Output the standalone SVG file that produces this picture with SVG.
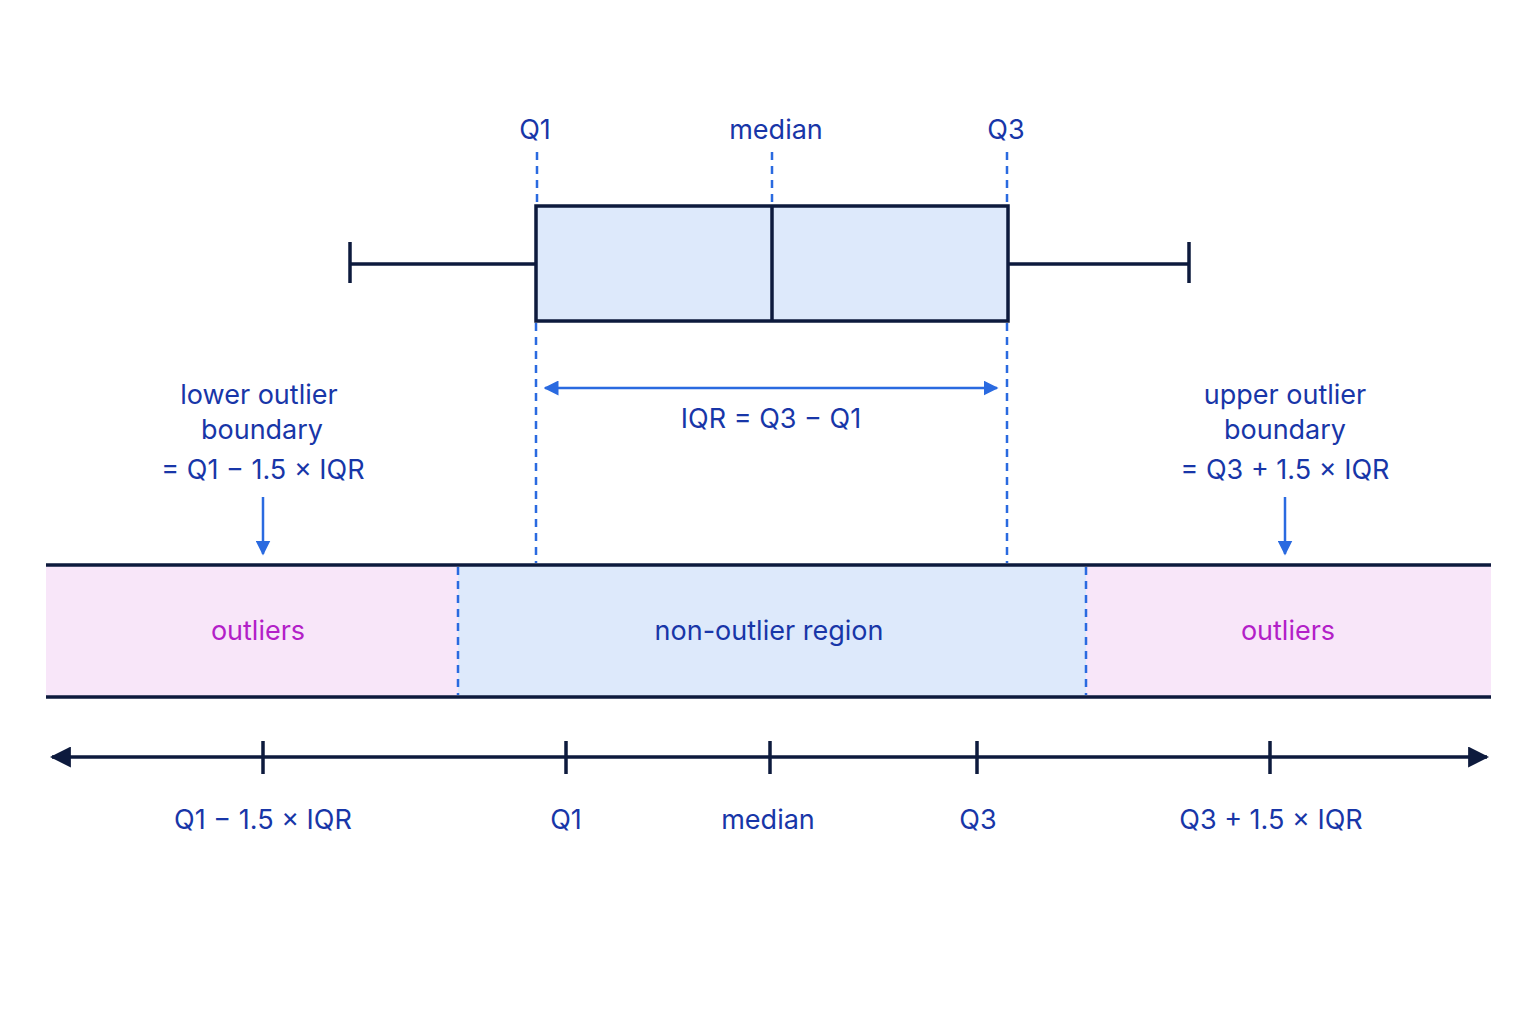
<svg xmlns="http://www.w3.org/2000/svg" width="1536" height="1024" viewBox="0 0 1536 1024">
<defs>
<style>
text{font-family:"Inter","Liberation Sans",sans-serif;font-size:27px;fill:#1836a8;text-anchor:middle}
.out{fill:#b31fc8}
.dash{stroke:#2a6ae0;stroke-width:2.5;stroke-dasharray:8 6;fill:none}
.dk{stroke:#0d1a3d;stroke-width:3.5;fill:none}
.bl{stroke:#2a6ae0;stroke-width:2.5;fill:none}
</style>
<marker id="ab" viewBox="0 0 10 10" refX="9" refY="5" markerWidth="6" markerHeight="6" orient="auto-start-reverse"><path d="M0,0L10,5L0,10z" fill="#2a6ae0"/></marker>
<marker id="ad" viewBox="0 0 10 10" refX="9" refY="5" markerWidth="6" markerHeight="6" orient="auto-start-reverse"><path d="M0,0L10,5L0,10z" fill="#0d1a3d"/></marker>
</defs>
<rect width="1536" height="1024" fill="#fff"/>
<g id="band">
<rect x="46" y="565" width="412" height="132" fill="#f8e6f9"/>
<rect x="458" y="565" width="628" height="132" fill="#dde9fb"/>
<rect x="1086" y="565" width="405" height="132" fill="#f8e6f9"/>
<line class="dk" x1="46" y1="565" x2="1491" y2="565" stroke-width="3"/>
<line class="dk" x1="46" y1="697" x2="1491" y2="697" stroke-width="3"/>
<line class="dash" x1="458" y1="567" x2="458" y2="695"/>
<line class="dash" x1="1086" y1="567" x2="1086" y2="695"/>
<text class="out" x="258" y="640">outliers</text>
<text x="769" y="640">non-outlier region</text>
<text class="out" x="1288" y="640">outliers</text>
</g>
<g id="boxplot">
<line class="dk" x1="350" y1="264" x2="536" y2="264"/>
<line class="dk" x1="350" y1="242" x2="350" y2="283"/>
<line class="dk" x1="1008" y1="264" x2="1189" y2="264"/>
<line class="dk" x1="1189" y1="242" x2="1189" y2="283"/>
<rect x="536" y="206" width="472" height="115" fill="#dde9fb" stroke="#0d1a3d" stroke-width="3.5"/>
<line class="dk" x1="772" y1="206" x2="772" y2="321"/>
<text x="535" y="139">Q1</text>
<text x="776" y="139">median</text>
<text x="1006" y="139">Q3</text>
</g>
<g id="connectors">
<line class="dash" x1="537" y1="152" x2="537" y2="204"/>
<line class="dash" x1="772" y1="152" x2="772" y2="204"/>
<line class="dash" x1="1007" y1="152" x2="1007" y2="204"/>
<line class="dash" x1="536" y1="323" x2="536" y2="563"/>
<line class="dash" x1="1007" y1="323" x2="1007" y2="563"/>
<line class="bl" x1="545" y1="388" x2="997" y2="388" marker-start="url(#ab)" marker-end="url(#ab)"/>
<line class="bl" x1="263" y1="497" x2="263" y2="554" marker-end="url(#ab)"/>
<line class="bl" x1="1285" y1="497" x2="1285" y2="554" marker-end="url(#ab)"/>
</g>
<g id="labels">
<text x="771" y="428">IQR = Q3 − Q1</text>
<text x="259" y="404">lower outlier</text>
<text x="262" y="439">boundary</text>
<text x="263" y="479">= Q1 − 1.5 × IQR</text>
<text x="1285" y="404">upper outlier</text>
<text x="1285" y="439">boundary</text>
<text x="1285" y="479">= Q3 + 1.5 × IQR</text>
</g>
<g id="axis">
<line class="dk" x1="52" y1="757" x2="1487" y2="757" marker-start="url(#ad)" marker-end="url(#ad)"/>
<line class="dk" x1="263" y1="741" x2="263" y2="774"/>
<line class="dk" x1="566" y1="741" x2="566" y2="774"/>
<line class="dk" x1="770" y1="741" x2="770" y2="774"/>
<line class="dk" x1="977" y1="741" x2="977" y2="774"/>
<line class="dk" x1="1270" y1="741" x2="1270" y2="774"/>
<text x="263" y="829">Q1 − 1.5 × IQR</text>
<text x="566" y="829">Q1</text>
<text x="768" y="829">median</text>
<text x="978" y="829">Q3</text>
<text x="1271" y="829">Q3 + 1.5 × IQR</text>
</g>
</svg>
